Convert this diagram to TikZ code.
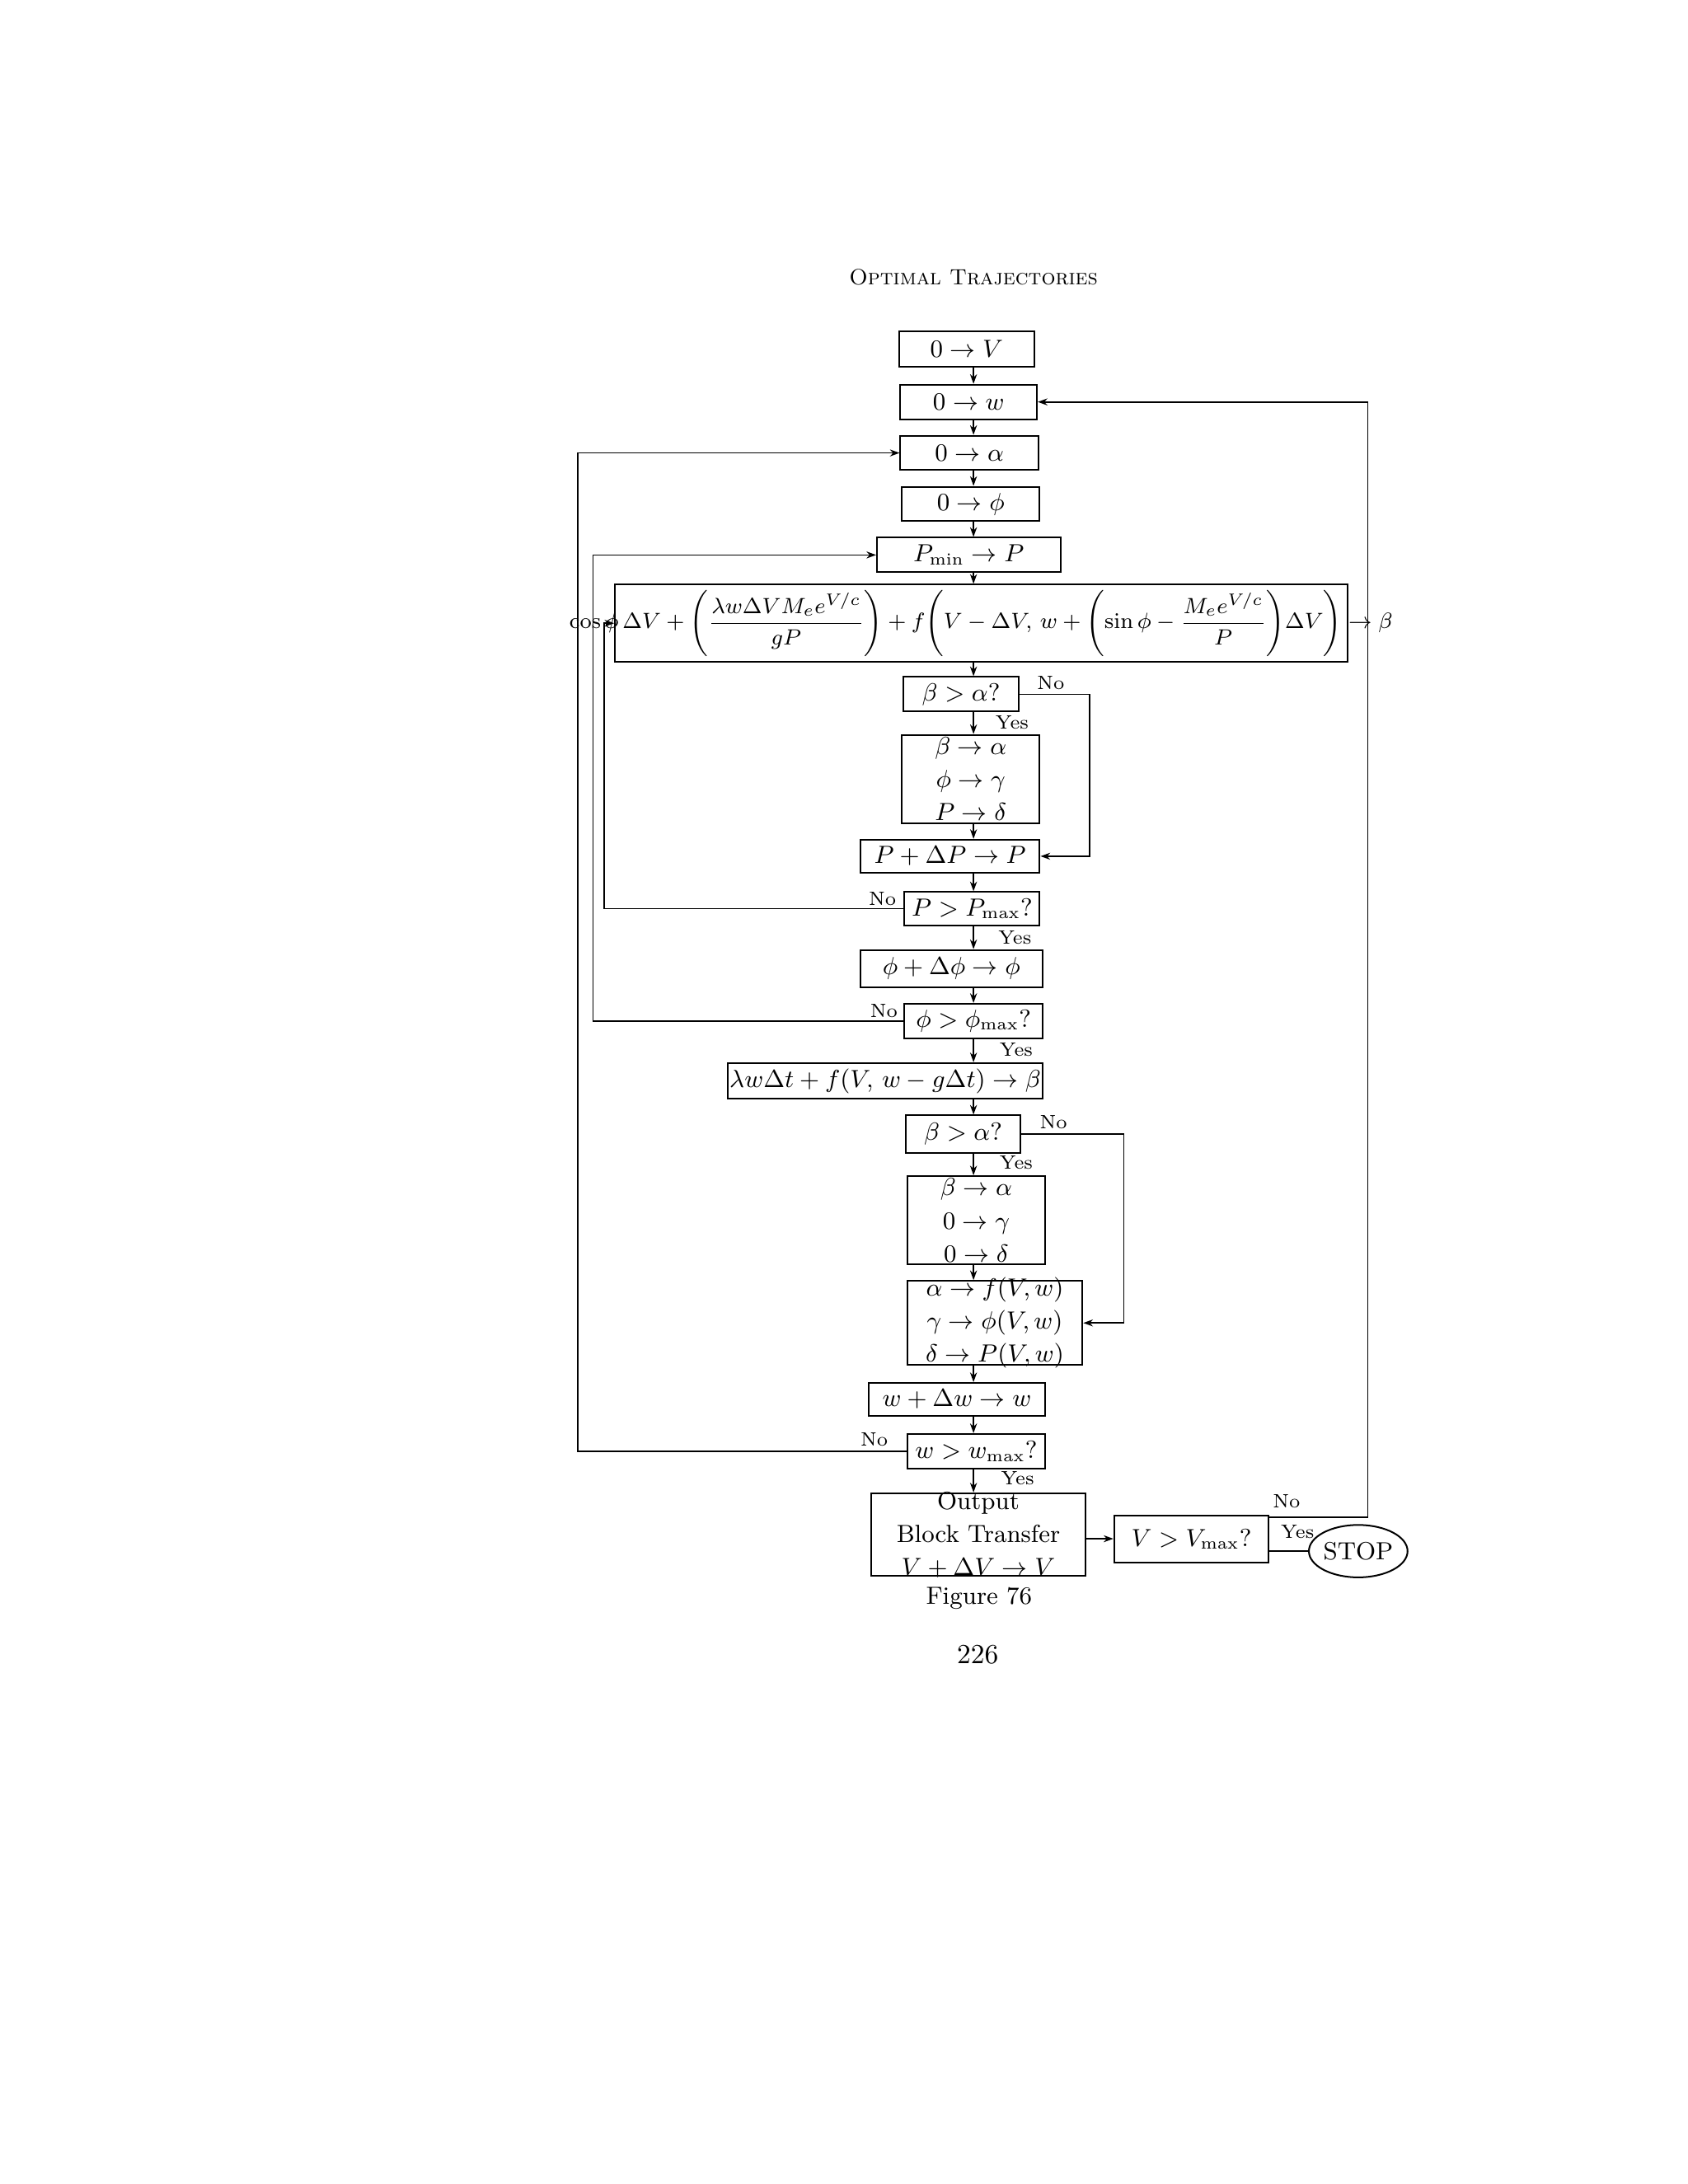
\documentclass[tikz,border=0pt]{standalone}
\usepackage{amsmath}
\usetikzlibrary{fit,arrows.meta,shapes.geometric}
\begin{document}
\begin{tikzpicture}[x=0.5pt,y=-0.5pt,
  box/.style={draw,line width=0.6pt,inner sep=0pt},
  txt/.style={font=\small,align=center,inner sep=0pt},
  lbl/.style={font=\scriptsize,inner sep=0pt},
  arr/.style={-{Stealth[length=3.5pt,width=2.5pt]},line width=0.5pt},
  ln/.style={line width=0.5pt}]
\useasboundingbox (0,0) rectangle (1224,1584);
\node[font=\footnotesize\scshape] (hdr) at (706,201) {Optimal Trajectories};
\coordinate (C) at (706,0);
\coordinate (L1) at (419,0);\coordinate (L2) at (430,0);\coordinate (L3) at (438,0);
\coordinate (R) at (992,0);\coordinate (N1) at (790,0);\coordinate (N2) at (815,0);
% boxes
\node[box,fit={(652,240)(750,266)}] (v0) {};\node[txt] at (v0) {$0\to V$};
\node[box,fit={(653,279)(752,304)}] (w0) {};\node[txt] at (w0) {$0\to w$};
\node[box,fit={(653,316)(753,341)}] (a0) {};\node[txt] at (a0) {$0\to \alpha$};
\node[box,fit={(654,353)(754,378)}] (f0) {};\node[txt] at (f0) {$0\to \phi$};
\node[box,fit={(636,390)(769,415)}] (pmin) {};\node[txt] at (pmin) {$P_{\min}\to P$};
\node[box,fit={(446,424)(977,480)}] (big) {};
\node[txt,font=\footnotesize] at (big) {$\cos\phi\,\Delta V+\left(\dfrac{\lambda w\Delta V M_e e^{V/c}}{gP}\right)+f\!\left(V-\Delta V,\,w+\left(\sin\phi-\dfrac{M_e e^{V/c}}{P}\right)\!\Delta V\right)\to\beta$};
\node[box,fit={(655,491)(739,516)}] (q1) {};\node[txt] at (q1) {$\beta>\alpha$?};
\node[box,fit={(654,533)(754,597)}] (s1) {};\node[txt] at (s1) {$\beta\to\alpha$\\[1pt]$\phi\to\gamma$\\[1pt]$P\to\delta$};
\node[box,fit={(624,609)(754,633)}] (pp) {};\node[txt] at (pp) {$P+\Delta P\to P$};
\node[box,fit={(656,647)(754,671)}] (q2) {};\node[txt] at (q2) {$P>P_{\max}$?};
\node[box,fit={(624,689)(756,716)}] (ff) {};\node[txt] at (ff) {$\phi+\Delta\phi\to\phi$};
\node[box,fit={(656,728)(756,753)}] (q3) {};\node[txt] at (q3) {$\phi>\phi_{\max}$?};
\node[box,fit={(528,771)(756,797)}] (lam) {};\node[txt] at (lam) {$\lambda w\Delta t+f(V,\,w-g\Delta t)\to\beta$};
\node[box,fit={(657,809)(740,836)}] (q4) {};\node[txt] at (q4) {$\beta>\alpha$?};
\node[box,fit={(658,853)(758,917)}] (s2) {};\node[txt] at (s2) {$\beta\to\alpha$\\[1pt]$0\to\gamma$\\[1pt]$0\to\delta$};
\node[box,fit={(658,929)(785,990)}] (s3) {};\node[txt] at (s3) {$\alpha\to f(V,w)$\\[1pt]$\gamma\to \phi(V,w)$\\[1pt]$\delta\to P(V,w)$};
\node[box,fit={(630,1003)(758,1027)}] (ww) {};\node[txt] at (ww) {$w+\Delta w\to w$};
\node[box,fit={(658,1040)(758,1065)}] (q5) {};\node[txt] at (q5) {$w>w_{\max}$?};
\node[box,fit={(632,1083)(787,1143)}] (out) {};\node[txt] at (out) {Output\\[1pt]Block Transfer\\[1pt]$V+\Delta V\to V$};
\node[box,fit={(808,1099)(920,1133)}] (q6) {};\node[txt] at (q6) {$V>V_{\max}$?};
\node[draw,ellipse,line width=0.6pt,minimum width=33pt,minimum height=19pt,inner sep=0pt,font=\small] (stop) at (985,1125) {STOP};
\node[font=\small] (fig) at (710,1159) {Figure 76};
\node[font=\normalsize] (pg) at (709,1200) {226};
% vertical flow
\foreach \a/\b in {v0/w0,w0/a0,a0/f0,f0/pmin,pmin/big,big/q1,q1/s1,s1/pp,pp/q2,q2/ff,ff/q3,q3/lam,lam/q4,q4/s2,s2/s3,s3/ww,ww/q5,q5/out}
  \draw[arr] (C |- \a.south) -- (C |- \b.north);
% yes/no labels
\node[lbl] (y1) at (734,524) {Yes};\node[lbl] (n1) at (762,495) {No};
\node[lbl] (y2) at (736,680) {Yes};\node[lbl] (n2) at (640,652) {No};
\node[lbl] (y3) at (737,761) {Yes};\node[lbl] (n3) at (641,733) {No};
\node[lbl] (y4) at (737,843) {Yes};\node[lbl] (n4) at (764,814) {No};
\node[lbl] (y5) at (738,1072) {Yes};\node[lbl] (n5) at (634,1044) {No};
\node[lbl] (y6) at (941,1111) {Yes};\node[lbl] (n6) at (933,1089) {No};
% branches
\draw[arr] (q1.east) -- (N1 |- q1.east) -- (N1 |- pp.east) -- (pp.east);
\draw[arr] (q4.east) -- (N2 |- q4.east) -- (N2 |- s3.east) -- (s3.east);
\draw[arr] (q2.west) -- (L3 |- q2.west) -- (L3 |- big.west) -- (big.west);
\draw[arr] (q3.west) -- (L2 |- q3.west) -- (L2 |- pmin.west) -- (pmin.west);
\draw[arr] (q5.west) -- (L1 |- q5.west) -- (L1 |- a0.west) -- (a0.west);
\draw[arr] (out.east |- q6.west) -- (q6.west);
\coordinate (q6t) at ([yshift=-1pt]q6.north east);
\draw[arr] (q6t) -- (R |- q6t) -- (R |- w0.east) -- (w0.east);
\draw[ln] (q6.east |- stop.west) -- (stop.west);
\end{tikzpicture}
\end{document}
